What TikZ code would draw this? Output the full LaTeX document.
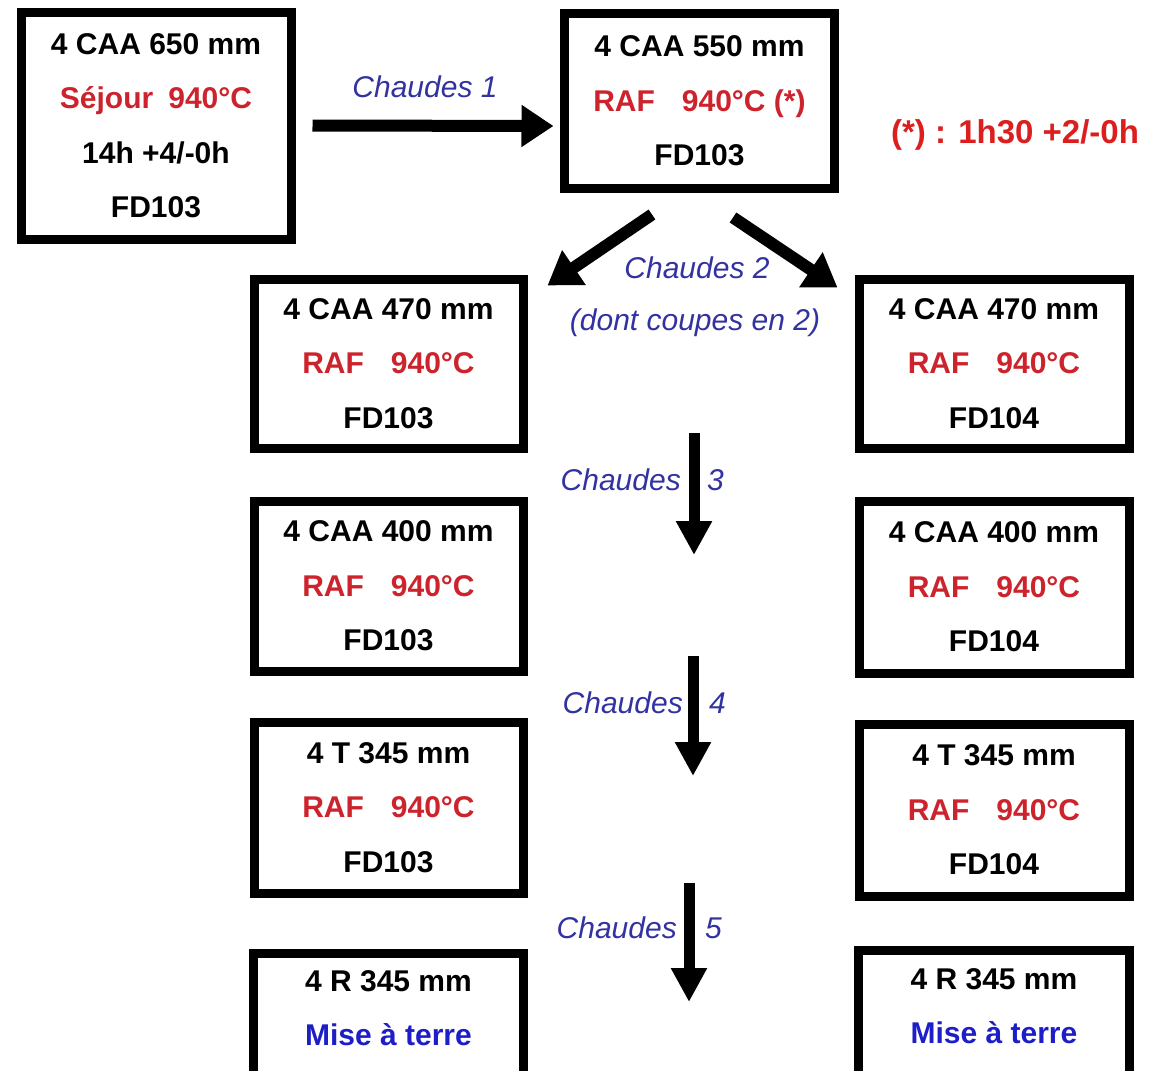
\documentclass[tikz,border=0pt]{standalone}
\usepackage{fontspec}
\setmainfont{Liberation Sans}
\usetikzlibrary{arrows.meta}
\definecolor{rouge}{RGB}{205,35,45}
\definecolor{rougevif}{RGB}{220,30,30}
\definecolor{bleu}{RGB}{50,50,160}
\definecolor{bleufonce}{RGB}{30,30,200}
\begin{document}
\begin{tikzpicture}[x=1pt,y=-1pt,
  txt/.style={inner sep=0pt, align=center, font=\bfseries\fontsize{30}{54.5}\selectfont},
  box/.style={txt, draw, line width=9pt},
  openline/.style={line width=9pt},
  arr/.style={line width=12pt, -{Triangle[length=32pt,width=40pt]}},
  varr/.style={line width=11pt, -{Triangle[length=34pt,width=34pt]}},
  lab/.style={inner sep=0pt, font=\itshape\fontsize{30}{36}\selectfont, text=bleu}]
\useasboundingbox (0,0) rectangle (1152,1071);
\fill[white] (0,0) rectangle (1152,1071);

% top row
\node[box, minimum width=270pt, minimum height=227pt] (a) at (156,125.5)
  {4 CAA 650 mm\\\textcolor{rouge}{Séjour\hspace{0.5em}940°C}\\14h +4/-0h\\FD103};
\node[box, minimum width=270pt, minimum height=175pt] (b) at (699.5,101)
  {4 CAA 550 mm\\\textcolor{rouge}{RAF\hspace{0.9em}940°C (*)}\\FD103};
\node[inner sep=0pt, font=\bfseries\fontsize{33}{36}\selectfont, text=rougevif] (note) at (1015,135)
  {(*) : 1h30 +2/-0h};

% left column
\node[box, minimum width=269pt, minimum height=169pt] (l1) at (388.5,363.5)
  {4 CAA 470 mm\\\textcolor{rouge}{RAF\hspace{0.9em}940°C}\\FD103};
\node[box, minimum width=269pt, minimum height=170pt] (l2) at (388.5,586)
  {4 CAA 400 mm\\\textcolor{rouge}{RAF\hspace{0.9em}940°C}\\FD103};
\node[box, minimum width=269pt, minimum height=171pt] (l3) at (388.5,807.5)
  {4 T 345 mm\\\textcolor{rouge}{RAF\hspace{0.9em}940°C}\\FD103};
\node[txt, minimum width=269pt, minimum height=108pt] (l4) at (388.5,1008)
  {4 R 345 mm\\\textcolor{bleufonce}{Mise à terre}};
\draw[openline] ([yshift=-40pt]l4.south west) -- (l4.north west) -- (l4.north east) -- ([yshift=-40pt]l4.south east);

% right column
\node[box, minimum width=270pt, minimum height=169pt] (r1) at (994,363.5)
  {4 CAA 470 mm\\\textcolor{rouge}{RAF\hspace{0.9em}940°C}\\FD104};
\node[box, minimum width=270pt, minimum height=172pt] (r2) at (994,587)
  {4 CAA 400 mm\\\textcolor{rouge}{RAF\hspace{0.9em}940°C}\\FD104};
\node[box, minimum width=270pt, minimum height=172pt] (r3) at (994,810)
  {4 T 345 mm\\\textcolor{rouge}{RAF\hspace{0.9em}940°C}\\FD104};
\node[txt, minimum width=270pt, minimum height=110pt] (r4) at (994,1006)
  {4 R 345 mm\\\textcolor{bleufonce}{Mise à terre}};
\draw[openline] ([yshift=-40pt]r4.south west) -- (r4.north west) -- (r4.north east) -- ([yshift=-40pt]r4.south east);

% arrows
\draw[arr] ([xshift=17pt]a.east) -- ([xshift=-6.5pt,yshift=-25pt]b.west);
\draw[arr] ([xshift=-47.5pt,yshift=-21.5pt]b.south) -- ([xshift=20pt,yshift=-11pt]l1.north east);
\draw[arr] ([xshift=33.5pt,yshift=-24.5pt]b.south) -- ([xshift=-17pt,yshift=-13pt]r1.north west);

\coordinate (s3) at (694,433);
\coordinate (e3) at (694,555);
\coordinate (s4) at (693,656);
\coordinate (e4) at (693,776);
\coordinate (s5) at (689,883);
\coordinate (e5) at (689,1002);
\draw[varr] (s3) -- (e3);
\draw[varr] (s4) -- (e4);
\draw[varr] (s5) -- (e5);

% labels
\node[lab] (c1) at (425,87) {Chaudes 1};
\node[lab] (c2) at (697,268) {Chaudes 2};
\node[lab] (c2b) at (695,323) {(dont coupes en 2)};
\node[lab, anchor=east] (c3) at (681,480) {Chaudes};
\node[lab, anchor=west] (n3) at (707,480) {3};
\node[lab, anchor=east] (c4) at (683,703) {Chaudes};
\node[lab, anchor=west] (n4) at (709,703) {4};
\node[lab, anchor=east] (c5) at (677,928) {Chaudes};
\node[lab, anchor=west] (n5) at (705,928) {5};
\end{tikzpicture}
\end{document}
